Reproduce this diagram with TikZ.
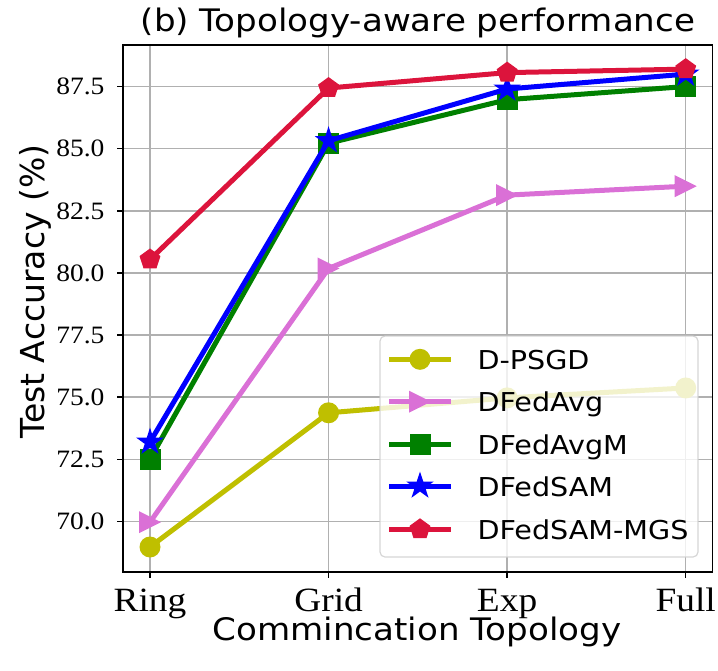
\documentclass[tikz,border=0pt]{standalone}
\usepackage{fontspec}
\usetikzlibrary{shapes.geometric,calc}
\newfontfamily\tickfont{Liberation Serif}[FakeStretch=1.1]
\newfontfamily\labfont{DejaVu Sans}[FakeStretch=1.1]
\newfontfamily\ylabfont{DejaVu Sans}
\definecolor{cy}{rgb}{0.75,0.75,0}
\definecolor{corchid}{HTML}{DA70D6}
\definecolor{cgreen}{HTML}{008000}
\definecolor{cblue}{HTML}{0000FF}
\definecolor{ccrimson}{HTML}{DC143C}
\definecolor{gridgray}{HTML}{B0B0B0}
\definecolor{legedge}{HTML}{CCCCCC}
\tikzset{
  series/.style={line width=5pt, line join=round, draw=#1},
  mcircle/.style={circle, fill=#1, inner sep=0pt, minimum size=21pt},
  msquare/.style={rectangle, fill=#1, inner sep=0pt, minimum size=21pt},
  mstar/.style={star, star points=5, star point ratio=2.618, fill=#1, inner sep=0pt, minimum size=29pt},
  mpent/.style={regular polygon, regular polygon sides=5, fill=#1, inner sep=0pt, minimum size=22pt},
  gridline/.style={draw=gridgray, line width=1.5pt},
  ytick/.style={font=\tickfont\fontsize{25}{30}\selectfont, anchor=base east},
  xtick/.style={font=\tickfont\fontsize{34}{40}\selectfont, anchor=base},
  legtext/.style={font=\labfont\fontsize{26}{31}\selectfont, anchor=base west},
}
\newcommand\tri[2]{\fill[#1, shift={(#2)}] (11,0) -- (-11,11) -- (-11,-11) -- cycle;}
\begin{document}
\begin{tikzpicture}[x=1pt, y=-1pt]
\useasboundingbox (0,0) rectangle (718,670);
% data coordinates
\begin{scope}[shift={(150,272.9)}, x=178.57pt, y=24.85pt]
  \foreach \i/\v in {1/68.97,2/74.37,3/74.97,4/75.37}{\coordinate (a\i) at ({\i-1},{\v-80});}
  \foreach \i/\v in {1/69.97,2/80.18,3/83.13,4/83.49}{\coordinate (b\i) at ({\i-1},{\v-80});}
  \foreach \i/\v in {1/72.51,2/85.22,3/86.97,4/87.50}{\coordinate (c\i) at ({\i-1},{\v-80});}
  \foreach \i/\v in {1/73.19,2/85.32,3/87.40,4/88.00}{\coordinate (d\i) at ({\i-1},{\v-80});}
  \foreach \i/\v in {1/80.54,2/87.44,3/88.06,4/88.20}{\coordinate (e\i) at ({\i-1},{\v-80});}
  \foreach \k/\v in {0/70.0,1/72.5,2/75.0,3/77.5,4/80.0,5/82.5,6/85.0,7/87.5}{\coordinate (yt\k) at (-0.1512,{\v-80});}
\end{scope}
\coordinate (xt1) at (150,572);
\coordinate (xt2) at (328.6,572);
\coordinate (xt3) at (507.1,572);
\coordinate (xt4) at (685.7,572);
% grid
\begin{scope}
  \clip (123,45) rectangle (712.5,572);
  \foreach \i in {1,...,4}{\draw[gridline] (xt\i) -- ++(0,-530);}
  \foreach \k in {0,...,7}{\draw[gridline] (yt\k) -- ++(600,0);}
  % series
  \draw[series=cy] (a1) -- (a2) -- (a3) -- (a4);
  \foreach \i in {1,...,4}{\node[mcircle=cy] (ma\i) at (a\i) {};}
  \draw[series=corchid] (b1) -- (b2) -- (b3) -- (b4);
  \foreach \i in {1,...,4}{\tri{corchid}{b\i}}
  \draw[series=cgreen] (c1) -- (c2) -- (c3) -- (c4);
  \foreach \i in {1,...,4}{\node[msquare=cgreen] (mc\i) at (c\i) {};}
  \draw[series=cblue] (d1) -- (d2) -- (d3) -- (d4);
  \foreach \i in {1,...,4}{\node[mstar=cblue] (md\i) at (d\i) {};}
  \draw[series=ccrimson] (e1) -- (e2) -- (e3) -- (e4);
  \foreach \i in {1,...,4}{\node[mpent=ccrimson] (me\i) at (e\i) {};}
\end{scope}
% frame and ticks
\draw[line width=1.6pt] (123,45) rectangle (712.5,572);
\foreach \i in {1,...,4}{\draw[line width=1.5pt] (xt\i) -- ++(0,6);}
\foreach \k in {0,...,7}{\draw[line width=1.5pt] (yt\k) -- ++(-6,0);}
% tick labels
\foreach \k/\t in {0/70.0,1/72.5,2/75.0,3/77.5,4/80.0,5/82.5,6/85.0,7/87.5}{\node[ytick] (ylab\k) at ($(yt\k)+(-15,8.3)$) {\t};}
\node[xtick] (xl1) at (150,611.5) {Ring};
\node[xtick] (xl2) at (328.6,611.5) {Grid};
\node[xtick] (xl3) at (507.1,611.5) {Exp};
\node[xtick] (xl4) at (685.7,611.5) {Full};
% axis labels and title
\node[font=\labfont\fontsize{31}{37}\selectfont, anchor=base] (xlabel) at (417,640) {Commincation Topology};
\node[font=\ylabfont\fontsize{33}{40}\selectfont, rotate=90, anchor=base west] (ylabel) at (45,442) {Test Accuracy (\%)};
\node[font=\labfont\fontsize{31}{37}\selectfont, anchor=base] (title) at (418,31) {(b) Topology-aware performance};
% legend
\draw[draw=legedge, fill=white, opacity=0.8, line width=1.2pt, rounded corners=5pt] (380,336) rectangle (698,557);
\coordinate (l1) at (420,359.3);
\coordinate (l2) at (420,401.7);
\coordinate (l3) at (420,444);
\coordinate (l4) at (420,486);
\coordinate (l5) at (420,529.3);
\draw[series=cy] ($(l1)+(-31,0)$) -- ($(l1)+(31,0)$);
\node[mcircle=cy] (lm1) at (l1) {};
\draw[series=corchid] ($(l2)+(-31,0)$) -- ($(l2)+(31,0)$);
\tri{corchid}{l2}
\draw[series=cgreen] ($(l3)+(-31,0)$) -- ($(l3)+(31,0)$);
\node[msquare=cgreen] (lm3) at (l3) {};
\draw[series=cblue] ($(l4)+(-31,0)$) -- ($(l4)+(31,0)$);
\node[mstar=cblue] (lm4) at (l4) {};
\draw[series=ccrimson] ($(l5)+(-31,0)$) -- ($(l5)+(31,0)$);
\node[mpent=ccrimson] (lm5) at (l5) {};
\node[legtext] (lt1) at ($(l1)+(54,10)$) {D-PSGD};
\node[legtext] (lt2) at ($(l2)+(54,10)$) {DFedAvg};
\node[legtext] (lt3) at ($(l3)+(54,10)$) {DFedAvgM};
\node[legtext] (lt4) at ($(l4)+(54,10)$) {DFedSAM};
\node[legtext] (lt5) at ($(l5)+(54,10)$) {DFedSAM-MGS};
\end{tikzpicture}
\end{document}
